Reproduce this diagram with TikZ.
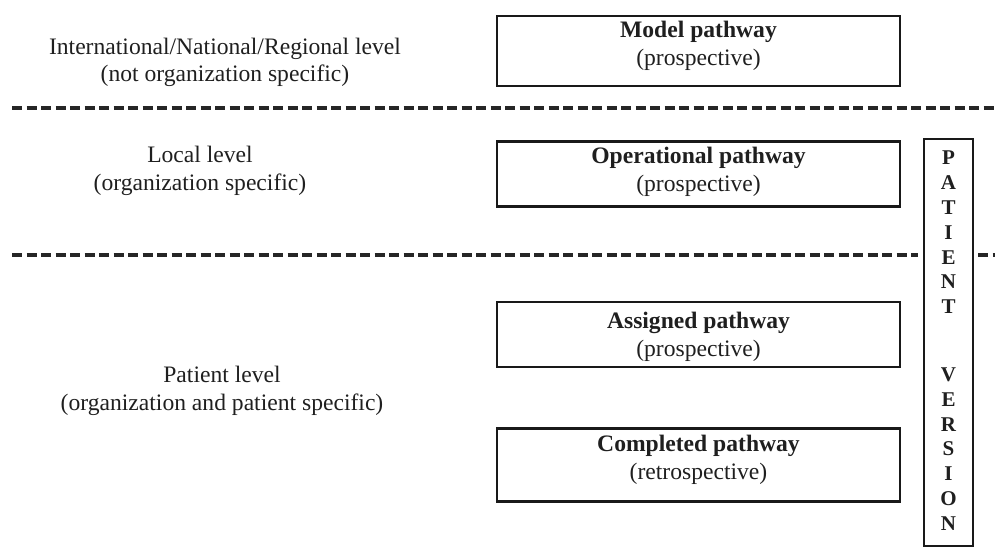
\documentclass[tikz,border=0pt]{standalone}
\usepackage{fontspec}
\setmainfont{Liberation Serif}
\begin{document}
\begin{tikzpicture}[x=1pt,y=-1pt,
  every node/.style={inner sep=0pt, outer sep=0pt, text=black!88},
  lvltext/.style={align=center, font=\fontsize{23.6}{27.5}\selectfont},
  pbox/.style={draw=black!90, line width=2.6pt, minimum width=403pt},
  ptext/.style={align=center, font=\fontsize{23.6}{28}\selectfont},
  divider/.style={draw=black!85, line width=4pt, dash pattern=on 10pt off 4.5pt},
  vletter/.style={font=\fontsize{21}{21}\selectfont\bfseries}
]
\useasboundingbox (0,0) rectangle (995,556);

% level labels on the left
\node[lvltext] (intl) at (225,62.5) {International/National/Regional level\\(not organization specific)};
\node[lvltext] (local) at (200,171) {Local level\\(organization specific)};
\node[lvltext] (patlvl) at (222,391) {Patient level\\(organization and patient specific)};

% level dividers
\coordinate (d1a) at (12,108);
\coordinate (d1b) at (995,108);
\coordinate (d2a) at (12,255);
\coordinate (d2b) at (918,255);
\coordinate (d2c) at (978,255);
\coordinate (d2d) at (995,255);
\draw[divider] (d1a) -- (d1b);
\draw[divider] (d2a) -- (d2b);
\draw[divider] (d2c) -- (d2d);

% pathway boxes
\node[pbox, minimum height=70pt] (model) at (698.5,51) {};
\node[ptext] (modelt) at (698.5,46) {\textbf{Model pathway}\\(prospective)};

\node[pbox, minimum height=65pt] (oper) at (698.5,174.2) {};
\node[ptext] (opert) at (698.5,172) {\textbf{Operational pathway}\\(prospective)};

\node[pbox, minimum height=65pt] (assig) at (698.5,334.5) {};
\node[ptext] (assigt) at (698.5,337) {\textbf{Assigned pathway}\\(prospective)};

\node[pbox, minimum height=73pt] (compl) at (698.5,465) {};
\node[ptext] (complt) at (698.5,460) {\textbf{Completed pathway}\\(retrospective)};

% patient version bar
\node[draw=black!90, line width=2.6pt, minimum width=49pt, minimum height=407pt] (pv) at (948.5,342.5) {};
\foreach \l [count=\i] in {P,A,T,I,E,N,T}
  \node[vletter] (pa\i) at (948.5,{158+24.8*(\i-1)}) {\l};
\foreach \l [count=\i] in {V,E,R,S,I,O,N}
  \node[vletter] (pb\i) at (948.5,{375+24.7*(\i-1)}) {\l};
\end{tikzpicture}
\end{document}
